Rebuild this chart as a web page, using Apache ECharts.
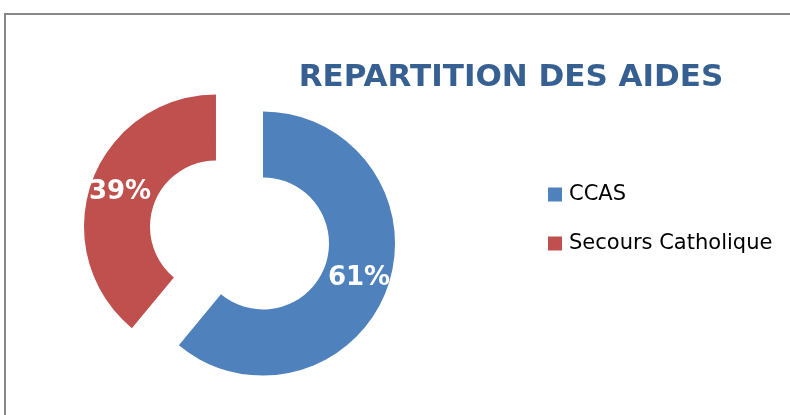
<!DOCTYPE html>
<html>
<head>
<meta charset="utf-8">
<script src="https://cdn.jsdelivr.net/npm/echarts@6/dist/echarts.min.js"></script>
<style>
html,body{margin:0;padding:0;background:#fff;}
#chart{width:790px;height:415px;}
</style>
</head>
<body>
<div id="chart"></div>
<script>
const titleText = "REPARTITION DES AIDES";
const categories = ["CCAS", "Secours Catholique"];
const values = [61, 39];
const colors = ["#4F81BD", "#C0504D"];

const chart = echarts.init(document.getElementById('chart'), null, {renderer: 'canvas'});
chart.setOption({
  animation: false,
  backgroundColor: '#ffffff',
  graphic: [{
    type: 'rect',
    silent: true,
    shape: {x: 5, y: 14, width: 900, height: 600},
    style: {fill: 'none', stroke: '#878787', lineWidth: 2}
  }],
  title: {
    text: titleText,
    left: 506,
    top: 57,
    textAlign: 'center',
    textStyle: {
      fontFamily: 'DejaVu Sans',
      fontWeight: 'bold',
      fontSize: 31,
      color: '#376092'
    }
  },
  legend: {
    orient: 'vertical',
    left: 548,
    top: 184,
    padding: 0,
    itemWidth: 14,
    itemHeight: 14,
    itemGap: 28,
    icon: 'rect',
    selectedMode: false,
    data: categories,
    textStyle: {
      fontFamily: 'DejaVu Sans',
      fontSize: 21,
      color: '#000000',
      padding: [0, 0, 0, 2]
    }
  },
  series: [{
    type: 'pie',
    center: [239.5, 235],
    radius: [66, 132],
    startAngle: 90,
    clockwise: true,
    selectedMode: 'multiple',
    selectedOffset: 25,
    avoidLabelOverlap: false,
    emphasis: {disabled: true},
    label: {
      show: true,
      position: 'inside',
      formatter: '{d}%',
      color: '#ffffff',
      fontFamily: 'DejaVu Sans',
      fontWeight: 'bold',
      fontSize: 26
    },
    labelLine: {show: false},
    itemStyle: {borderWidth: 0},
    data: categories.map((c, i) => ({
      name: c,
      value: values[i],
      selected: true,
      itemStyle: {color: colors[i]}
    }))
  }]
});
</script>
</body>
</html>
